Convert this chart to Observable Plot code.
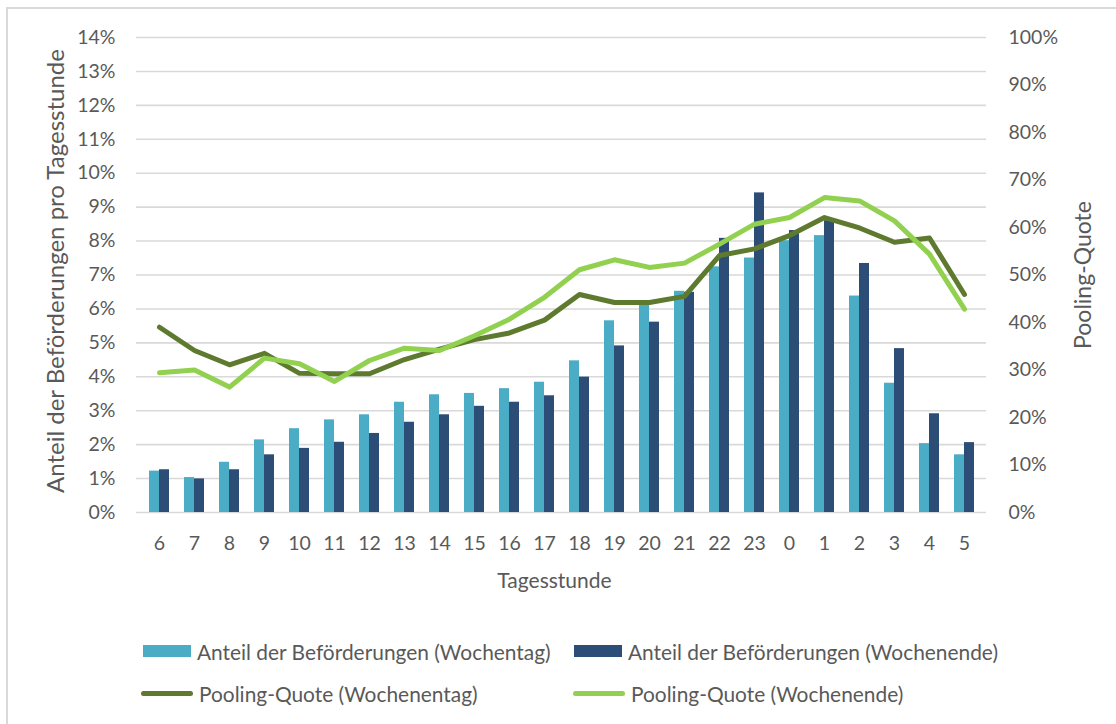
<!DOCTYPE html>
<html>
<head>
<meta charset="utf-8">
<script src="https://cdn.jsdelivr.net/npm/d3@7"></script>
<script src="https://cdn.jsdelivr.net/npm/@observablehq/plot@0.6"></script>
<style>
  html, body { margin: 0; padding: 0; background: #fff; overflow: hidden; }
  body { width: 1116px; height: 724px; position: relative; font-family: Lato, "Open Sans", sans-serif; color: #595959; }
  #frame { position: absolute; left: 6px; top: 7px; width: 1200px; height: 800px; border: 2px solid #D9D9D9; box-sizing: border-box; }
  #chart { position: absolute; left: 0; top: 0; }
  .leg { position: absolute; display: flex; align-items: center; font-size: 20.9px; white-space: nowrap; }
  .sw { display: inline-block; margin-right: 6px; }
  .box { width: 48px; height: 12px; }
  .ln { width: 52px; height: 5px; border-radius: 3px; }
</style>
</head>
<body>
<div id="frame"></div>
<div id="chart"></div>
<div id="legend"></div>
<script>
const hours = ["6","7","8","9","10","11","12","13","14","15","16","17","18","19","20","21","22","23","0","1","2","3","4","5"];
const anteilWochentag = [1.22,1.03,1.48,2.14,2.47,2.73,2.88,3.25,3.47,3.51,3.65,3.84,4.47,5.65,6.15,6.52,7.24,7.50,8.01,8.16,6.38,3.81,2.03,1.70];
const anteilWochenende = [1.26,0.99,1.26,1.70,1.89,2.07,2.33,2.66,2.88,3.13,3.25,3.44,3.99,4.91,5.61,6.49,8.08,9.42,8.31,8.60,7.34,4.83,2.91,2.06];
const poolingWochentag = [39.0,34.1,31.1,33.5,29.3,29.2,29.2,32.2,34.4,36.4,37.8,40.5,45.9,44.2,44.2,45.5,54.1,55.5,58.3,62.1,59.9,56.9,57.8,45.9];
const poolingWochenende = [29.4,30.0,26.4,32.5,31.3,27.6,32.0,34.6,34.1,37.2,40.7,45.3,51.1,53.2,51.6,52.5,56.5,60.7,62.1,66.3,65.6,61.4,54.4,42.8];
const leftTicks = [0,1,2,3,4,5,6,7,8,9,10,11,12,13,14];
const rightTicks = [0,10,20,30,40,50,60,70,80,90,100];
const legendLabels = ["Anteil der Beförderungen (Wochentag)","Anteil der Beförderungen (Wochenende)","Pooling-Quote (Wochenentag)","Pooling-Quote (Wochenende)"];
const colors = ["#4BACC6","#2C4D75","#5E7A2F","#92D050"];

const rows = hours.map((h, i) => ({h, wd: anteilWochentag[i], we: anteilWochenende[i], pwd: poolingWochentag[i], pwe: poolingWochenende[i]}));
const k = 14 / 100; // right axis (0–100%) mapped onto left axis (0–14%)
const txt = "#595959";

const chart = Plot.plot({
  width: 1116, height: 610,
  marginLeft: 136, marginRight: 130, marginTop: 37, marginBottom: 98,
  style: {fontFamily: "Lato, 'Open Sans', sans-serif", fontSize: "19.5px", color: txt, background: "transparent", overflow: "visible"},
  x: {domain: hours, paddingInner: 0.435, paddingOuter: 0.2175},
  y: {domain: [0, 14]},
  marks: [
    Plot.ruleY(leftTicks, {stroke: "#D9D9D9", strokeWidth: 1.6}),
    Plot.barY(rows, {x: "h", y: "wd", fill: colors[0], insetRight: 10}),
    Plot.barY(rows, {x: "h", y: "we", fill: colors[1], insetLeft: 10}),
    Plot.lineY(rows, {x: "h", y: d => d.pwd * k, stroke: colors[2], strokeWidth: 5, strokeLinejoin: "round", strokeLinecap: "round"}),
    Plot.lineY(rows, {x: "h", y: d => d.pwe * k, stroke: colors[3], strokeWidth: 5, strokeLinejoin: "round", strokeLinecap: "round"}),
    Plot.axisY({ticks: leftTicks, tickFormat: d => d + "%", tickSize: 0, tickPadding: 21, label: null, fill: txt}),
    Plot.axisY({anchor: "right", ticks: rightTicks.map(v => v * k), tickFormat: d => Math.round(d / k) + "%", tickSize: 0, tickPadding: 22, label: null, fill: txt}),
    Plot.axisX({tickSize: 0, tickPadding: 24, label: null, fill: txt}),
    Plot.text(["Tagesstunde"], {frameAnchor: "bottom", dx: -7, dy: 75, fontSize: 21, fill: txt}),
    Plot.text(["Anteil der Beförderungen pro Tagesstunde"], {frameAnchor: "left", textAnchor: "middle", dx: -80, dy: -4, rotate: -90, fontSize: 24, fill: txt}),
    Plot.text(["Pooling-Quote"], {frameAnchor: "right", textAnchor: "middle", dx: 97, rotate: -90, fontSize: 23, fill: txt})
  ]
});
document.getElementById("chart").appendChild(chart);

// legend
const pos = [[143, 651, "box"], [574, 651, "box"], [141, 693, "ln"], [573, 693, "ln"]];
const leg = document.getElementById("legend");
legendLabels.forEach((lab, i) => {
  const [x, y, kind] = pos[i];
  const d = document.createElement("div");
  d.className = "leg";
  d.style.left = x + "px";
  d.style.top = (y - 14) + "px";
  d.style.height = "28px";
  const s = document.createElement("span");
  s.className = "sw " + kind;
  s.style.background = colors[i];
  d.appendChild(s);
  const t = document.createElement("span");
  t.textContent = lab;
  d.appendChild(t);
  leg.appendChild(d);
});
</script>
</body>
</html>
